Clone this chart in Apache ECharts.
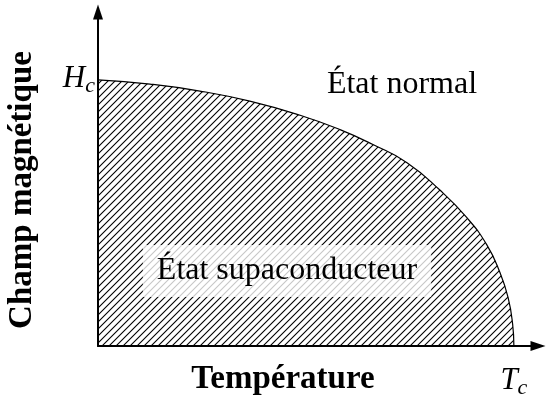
<!DOCTYPE html>
<html>
<head>
<meta charset="utf-8">
<script src="https://cdn.jsdelivr.net/npm/echarts@6/dist/echarts.min.js"></script>
<style>html,body{margin:0;padding:0;background:#fff}#c{width:547px;height:401px}</style>
</head>
<body>
<div id="c"></div>
<script>
// Reduced temperature T/Tc and reduced critical field H/Hc
const temperature = [0, 0.125, 0.245, 0.365, 0.486, 0.582, 0.661, 0.743, 0.822, 0.887, 0.935, 0.966, 0.986, 0.997, 1.0];
const field       = [1, 0.984, 0.958, 0.920, 0.867, 0.813, 0.757, 0.689, 0.586, 0.482, 0.380, 0.278, 0.183, 0.082, 0];
const xTickLabel = {1: '{i|T}{s|c}'};
const yTickLabel = {1: '{i|H}{s|c}'};
const xAxisName = 'Température';
const yAxisName = 'Champ magnétique';
const normalLabel = 'État normal';
const superLabel = 'État supaconducteur';

// hatch pattern
const tile = document.createElement('canvas');
tile.width = 7; tile.height = 7;
const g = tile.getContext('2d');
g.strokeStyle = '#000';
g.lineWidth = 1.1;
g.beginPath();
g.moveTo(-1, 8); g.lineTo(8, -1);
g.moveTo(-1, 1); g.lineTo(1, -1);
g.moveTo(6, 8); g.lineTo(8, 6);
g.stroke();

const serif = 'Liberation Serif';
const rich = {
  i: {fontFamily: serif, fontStyle: 'italic', fontSize: 31, lineHeight: 34, verticalAlign: 'top', color: '#000'},
  s: {fontFamily: serif, fontStyle: 'italic', fontSize: 22, lineHeight: 22, verticalAlign: 'bottom', color: '#000'}
};
const tickLabelBase = {fontFamily: serif, fontStyle: 'italic', fontSize: 31, color: '#000', rich: rich};

const chart = echarts.init(document.getElementById('c'), null, {renderer: 'canvas'});
chart.setOption({
  animation: false,
  backgroundColor: '#fff',
  grid: {left: 98, right: 9, top: 12, bottom: 55, containLabel: false},
  xAxis: {
    type: 'value', min: 0, max: 1.058, interval: 1, z: 10,
    axisLine: {show: true, symbol: ['none', 'triangle'], symbolSize: [10, 15], lineStyle: {color: '#000', width: 2}},
    axisTick: {show: false}, splitLine: {show: false},
    axisLabel: Object.assign({margin: 19, showMaxLabel: false, hideOverlap: false, formatter: v => xTickLabel[v] || ''}, tickLabelBase)
  },
  yAxis: {
    type: 'value', min: 0, max: 1.255, interval: 1, z: 10,
    axisLine: {show: true, symbol: ['none', 'triangle'], symbolSize: [10, 15], lineStyle: {color: '#000', width: 2}},
    axisTick: {show: false}, splitLine: {show: false},
    axisLabel: Object.assign({margin: 3, showMaxLabel: false, hideOverlap: false, formatter: v => yTickLabel[v] || ''}, tickLabelBase)
  },
  series: [{
    type: 'line',
    data: temperature.map((t, i) => [t, field[i]]),
    showSymbol: false,
    smooth: 0.5,
    lineStyle: {color: '#000', width: 1.2},
    areaStyle: {color: {image: tile, repeat: 'repeat'}, opacity: 1}
  }],
  graphic: [
    {type: 'text', z: 100, x: 283, y: 379, style: {text: xAxisName, font: 'bold 33px "Liberation Serif"', fill: '#000', align: 'center', verticalAlign: 'middle'}},
    {type: 'text', z: 100, x: 22, y: 190, rotation: Math.PI / 2, style: {text: yAxisName, font: 'bold 33px "Liberation Serif"', fill: '#000', align: 'center', verticalAlign: 'middle'}},
    {type: 'text', z: 100, x: 402, y: 85, style: {text: normalLabel, font: '32px "Liberation Serif"', fill: '#000', align: 'center', verticalAlign: 'middle'}},
    {type: 'text', z: 100, x: 287, y: 271, style: {text: superLabel, font: '32px "Liberation Serif"', fill: '#000', align: 'center', verticalAlign: 'middle', backgroundColor: 'rgba(255,255,255,0.78)', padding: [14, 14, 6, 14]}}
  ]
});
</script>
</body>
</html>
